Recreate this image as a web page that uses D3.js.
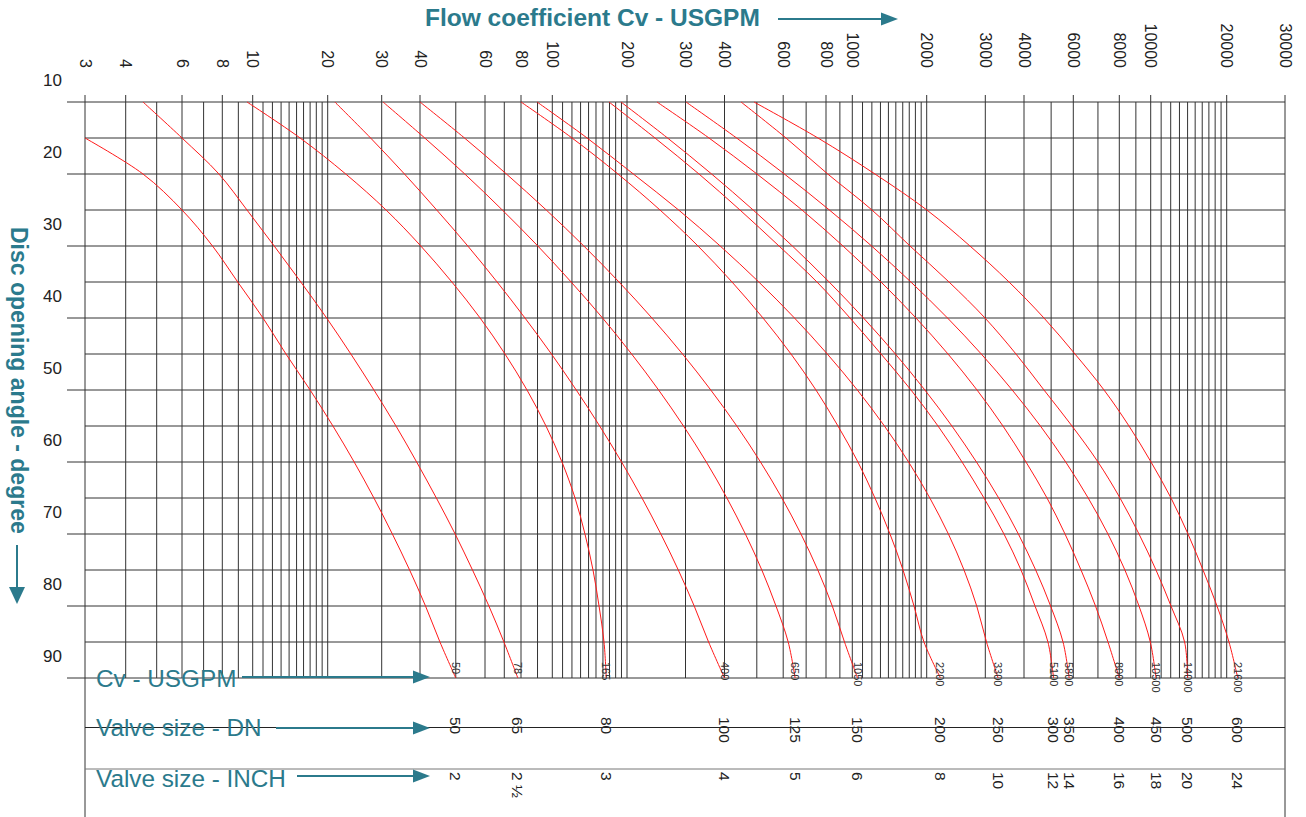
<!DOCTYPE html>
<html>
<head>
<meta charset="utf-8">
<script src="https://cdn.jsdelivr.net/npm/d3@7"></script>
<style>
  html,body{margin:0;padding:0;background:#fff;}
  svg{display:block;}
  text{font-family:"Liberation Sans",Arial,Helvetica,sans-serif;}
</style>
</head>
<body>
<svg id="chart" width="1306" height="817"></svg>
<script>
// ---------------- DATA ----------------
const angles = [10,15,20,25,30,35,40,45,50,55,60,65,70,75,80,85,90];
const yTickLabels = [10,20,30,40,50,60,70,80,90];
const xTickLabels = [3,4,6,8,10,20,30,40,60,80,100,200,300,400,600,800,1000,2000,3000,4000,6000,8000,10000,20000,30000];
const xMinorGrid = [5,7,9,11,12,13,14,15,16,17,18,19,50,70,90,110,120,130,140,150,160,170,180,190,
                    500,700,900,1100,1200,1300,1400,1500,1600,1700,1800,1900,5000,7000,9000,
                    11000,12000,13000,14000,15000,16000,17000,18000,19000];
const dnSizes   = ["50","65","80","100","125","150","200","250","300","350","400","450","500","600"];
const inchSizes = ["2","2 \u00BD","3","4","5","6","8","10","12","14","16","18","20","24"];
const cvAt90    = [50,78,165,400,650,1050,2200,3300,5100,5800,8000,10500,14000,21600];

// Cv (USGPM) read at each angle of `angles` (null = outside the chart)
const cvDN50  = [null,3,4.53,6.0,7.46,8.96,11.0,13.6,17.0,20.8,24.4,28.3,32.5,37.0,41.4,45.3,50];
const cvDN65  = [4.53,6.0,7.81,9.59,12.2,15.6,19.8,23.8,28.3,33.4,39.0,44.3,49.8,55.5,61.9,69.8,78];
const cvDN80  = [9.59,15.5,22.9,31.0,40.2,48.8,58.2,70.4,83.5,95.6,109.4,123.5,135.4,145.9,154.3,161.6,165];
const cvDN100 = [21.1,27.6,35.6,44.4,53.9,66.1,82.3,99.4,124.9,155.2,190.2,221.9,252.9,285.4,319.9,355.7,400];
const cvDN125 = [30.3,41.2,52.9,68.9,90.2,119.1,159.4,206.5,249,295.9,349.8,406.7,462.1,517.6,570.8,620.5,650];
const cvDN150 = [40,52.8,71.2,95.8,134,185.7,237.7,293.9,361.5,435.5,512.9,594.6,676.1,757.1,843.9,936,1050];
const cvDN200 = [80,120.1,183.9,251.4,329,421.3,521.9,632.3,747.9,885.6,1054,1235,1421,1604,1777,1950,2200];
const cvDN250 = [89.7,138.1,209,286.1,387.5,507,647.3,808.9,1048,1349,1690,2044,2324,2589,2827,3027,3300];
const cvDN300 = [169.2,242.8,331.4,445.2,582.9,752.9,980.6,1307,1728,2163,2554,2973,3447,3912,4379,4870,5100];
const cvDN350 = [189.1,264.9,363.7,487.6,638.2,821.9,1110,1494,1966,2381,2822,3314,3836,4404,4978,5514,5800];
const cvDN400 = [246.2,356.8,500.6,680.9,923.9,1307,1810,2318,2833,3421,4066,4834,5605,6296,6894,7453,8000];
const cvDN450 = [301.1,434.9,604.8,823.3,1197,1726,2310,2918,3664,4578,5637,6586,7453,8325,9202,9972,10500];
const cvDN500 = [448.3,611.4,811.9,1201,1712,2334,2994,3769,4714,5937,7002,8040,9202,10495,12034,13624,14000];
const cvDN600 = [490.4,757.9,1235,2002,2698,3579,4714,6064,7271,8570,10030,12034,14051,16115,18309,20320,21600];
const cvSeries = [cvDN50,cvDN65,cvDN80,cvDN100,cvDN125,cvDN150,cvDN200,cvDN250,cvDN300,cvDN350,cvDN400,cvDN450,cvDN500,cvDN600];

// ---------------- LAYOUT / STYLE ----------------
const W = 1306, H = 817;
const plot = {left:85, right:1285, top:102, bottom:678};
// pixel positions of the printed (hand-drawn) log axis at each labelled tick
const xAxisCalibration = [85,125.7,182,222.3,252.7,327.7,381.7,420,485,521,552.3,627,685.5,724.5,783.2,826,852.3,926.7,985.3,1024,1073.3,1119.3,1150.7,1226.7,1285];
const TEAL = "#2b7a8c", GRID = "#333", INK = "#222", RED = "#ff1a1a";

const svg = d3.select("#chart");
svg.append("rect").attr("width",W).attr("height",H).attr("fill","#fff");

const x = d3.scaleLog().domain(xTickLabels).range(xAxisCalibration);
const y = d3.scaleLinear().domain([10,90]).range([plot.top, plot.bottom]);

// ---- vertical grid ----
const gV = svg.append("g").attr("stroke",GRID).attr("stroke-width",1);
xMinorGrid.forEach(v => {
  gV.append("line").attr("x1",x(v)).attr("x2",x(v)).attr("y1",plot.top).attr("y2",plot.bottom);
});
xTickLabels.forEach((v,i) => {
  const edge = (i===0 || i===xTickLabels.length-1);
  gV.append("line").attr("x1",x(v)).attr("x2",x(v))
    .attr("y1",plot.top-7).attr("y2",edge ? H : plot.bottom);
});

// ---- horizontal grid (every 5 deg) ----
const gH = svg.append("g").attr("stroke",GRID).attr("stroke-width",1);
d3.range(10,91,5).forEach(a => {
  gH.append("line").attr("x1", a%10===0 ? 67 : plot.left).attr("x2",plot.right)
    .attr("y1",y(a)).attr("y2",y(a));
});

// ---- top tick labels ----
svg.append("g").selectAll("text").data(xTickLabels).join("text")
  .attr("transform",d=>`translate(${x(d)},68) rotate(90)`)
  .attr("text-anchor","end").attr("dominant-baseline","central")
  .attr("font-size",16).attr("fill",INK).text(d=>d);

// ---- left tick labels ----
svg.append("g").selectAll("text").data(yTickLabels).join("text")
  .attr("x",62).attr("y",d=>y(d)-22)
  .attr("text-anchor","end").attr("dominant-baseline","central")
  .attr("font-size",17).attr("fill",INK).text(d=>d);

// ---- curves ----
svg.append("clipPath").attr("id","plotclip").append("rect")
  .attr("x",plot.left).attr("y",plot.top-2).attr("width",plot.right-plot.left).attr("height",plot.bottom-plot.top+4);
const line = d3.line().x(d=>x(d.cv)).y(d=>y(d.a)).curve(d3.curveCatmullRom.alpha(0.5));
const gC = svg.append("g").attr("clip-path","url(#plotclip)");
cvSeries.forEach(s => {
  const pts = angles.map((a,i)=>({a, cv:s[i]})).filter(d=>d.cv!=null);
  gC.append("path").attr("d",line(pts)).attr("fill","none").attr("stroke",RED).attr("stroke-width",1);
});

// ---- Cv values at 90 deg ----
svg.append("g").selectAll("text").data(cvAt90).join("text")
  .attr("transform",d=>`translate(${x(d)},662) rotate(90)`)
  .attr("text-anchor","start").attr("dominant-baseline","central")
  .attr("font-size",11).attr("fill","#333").text(d=>d);

// ---- bottom rows ----
svg.append("line").attr("x1",plot.left).attr("x2",plot.right).attr("y1",727.5).attr("y2",727.5).attr("stroke","#222");
svg.append("line").attr("x1",plot.left).attr("x2",plot.right).attr("y1",769).attr("y2",769).attr("stroke","#777");

svg.append("g").selectAll("text").data(dnSizes).join("text")
  .attr("transform",(d,i)=>`translate(${x(cvAt90[i])},717) rotate(90)`)
  .attr("text-anchor","start").attr("dominant-baseline","central")
  .attr("font-size",15.5).attr("fill",INK).text(d=>d);
svg.append("g").selectAll("text").data(inchSizes).join("text")
  .attr("transform",(d,i)=>`translate(${x(cvAt90[i])},772) rotate(90)`)
  .attr("text-anchor","start").attr("dominant-baseline","central")
  .attr("font-size",15.5).attr("fill",INK).text(d=>d);

// row titles + arrows
function hArrow(x1,x2,yy){
  svg.append("line").attr("x1",x1).attr("x2",x2-15).attr("y1",yy).attr("y2",yy)
    .attr("stroke",TEAL).attr("stroke-width",2);
  svg.append("path").attr("d",`M${x2},${yy} L${x2-17},${yy-6.5} L${x2-17},${yy+6.5} Z`).attr("fill",TEAL);
}
const rows = [["Cv - USGPM",687,242,677],["Valve size - DN",736,276,728],["Valve size - INCH",787,297,776]];
rows.forEach(r=>{
  svg.append("text").attr("x",96).attr("y",r[1]).attr("font-size",24.3).attr("fill",TEAL).text(r[0]);
  hArrow(r[2],430,r[3]);
});

// ---- axis titles ----
svg.append("text").attr("x",425).attr("y",26).attr("font-size",24.5).attr("font-weight","bold")
  .attr("fill",TEAL).text("Flow coefficient Cv - USGPM");
hArrow(778,898,19);

svg.append("text").attr("transform","translate(11,227) rotate(90)").attr("font-size",23)
  .attr("font-weight","bold").attr("fill",TEAL).text("Disc opening angle - degree");
svg.append("line").attr("x1",17).attr("x2",17).attr("y1",545).attr("y2",590).attr("stroke",TEAL).attr("stroke-width",2);
svg.append("path").attr("d","M17,604 L9,587 L25,587 Z").attr("fill",TEAL);
</script>
</body>
</html>
